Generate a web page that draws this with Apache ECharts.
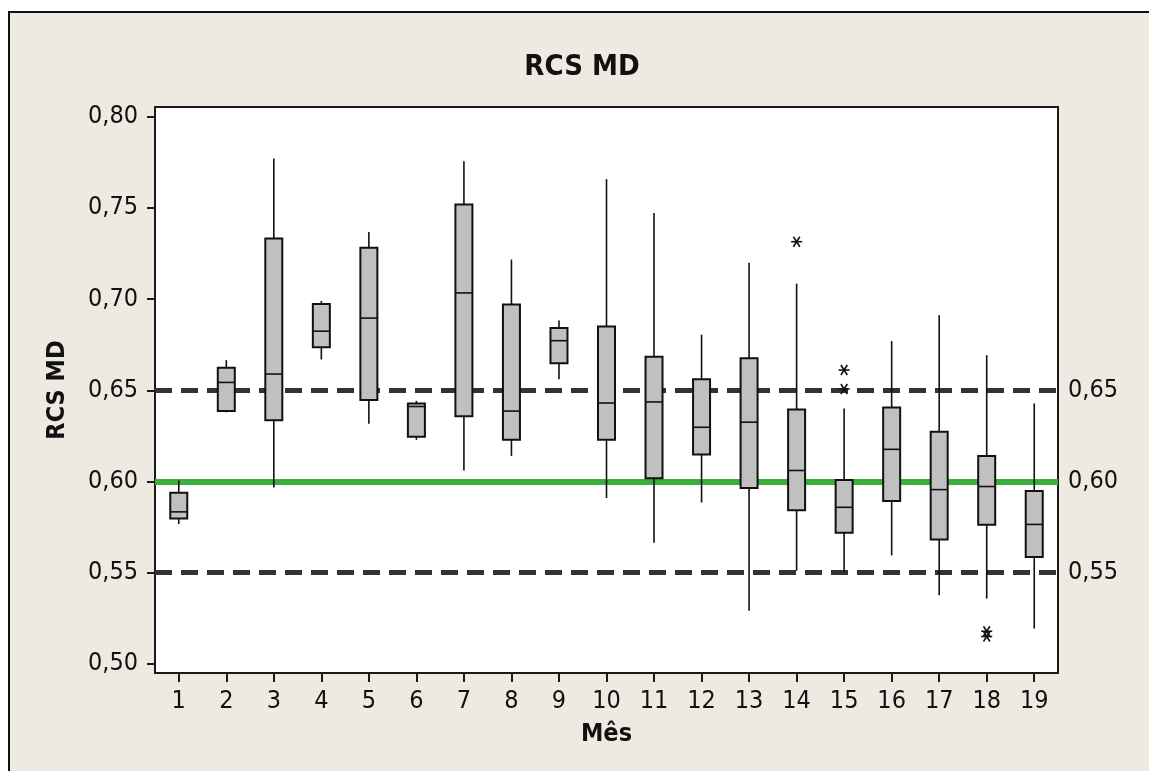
<!DOCTYPE html>
<html>
<head>
<meta charset="utf-8">
<script src="https://cdn.jsdelivr.net/npm/echarts@6/dist/echarts.min.js"></script>
<style>
html,body{margin:0;padding:0;background:#ffffff;}
#chart{width:1149px;height:771px;}
</style>
</head>
<body>
<div id="chart"></div>
<script>
// ---- Data ----
const months = ['1','2','3','4','5','6','7','8','9','10','11','12','13','14','15','16','17','18','19'];
const whiskerLow  = [0.5766,0.6379,0.5966,0.6669,0.6316,0.6228,0.6060,0.6140,0.6560,0.5909,0.5663,0.5884,0.5290,0.5510,0.5502,0.5594,0.5376,0.5357,0.5193];
const q1          = [0.5796,0.6386,0.6335,0.6736,0.6446,0.6245,0.6358,0.6228,0.6648,0.6228,0.6018,0.6148,0.5964,0.5842,0.5718,0.5892,0.5682,0.5762,0.5586];
const median      = [0.5833,0.6543,0.6589,0.6824,0.6896,0.6411,0.7034,0.6386,0.6772,0.6430,0.6436,0.6297,0.6325,0.6060,0.5858,0.6176,0.5955,0.5972,0.5764];
const q3          = [0.5938,0.6623,0.7332,0.6973,0.7282,0.6428,0.7519,0.6971,0.6841,0.6850,0.6684,0.6560,0.6675,0.6394,0.6008,0.6405,0.6272,0.6140,0.5947];
const whiskerHigh = [0.6006,0.6665,0.7771,0.6990,0.7368,0.6442,0.7756,0.7217,0.6883,0.7658,0.7473,0.6805,0.7200,0.7085,0.6400,0.6770,0.6911,0.6692,0.6428];
const outlierMonth = ['14','15','15','18','18'];
const outlierValue = [0.7315,0.6611,0.6507,0.5178,0.5149];
const leftTicks  = [0.50,0.55,0.60,0.65,0.70,0.75,0.80];
const rightTicks = [0.55,0.60,0.65];
const limitLines = [0.55,0.65];
const targetLine = [0.60];

// ---- Build ----
const boxData = months.map((m,i)=>[i, whiskerLow[i], q1[i], median[i], q3[i], whiskerHigh[i]]);
const outData = outlierMonth.map((m,i)=>[months.indexOf(m), outlierValue[i]]);
const fmt = v => Number(v).toFixed(2).replace('.', ',');
const FONT = "'DejaVu Sans Condensed','DejaVu Sans',sans-serif";

const chart = echarts.init(document.getElementById('chart'));
chart.setOption({
  backgroundColor: 'transparent',
  animation: false,
  graphic: [{
    type: 'rect', z: -100, silent: true,
    shape: {x: 9, y: 12, width: 1300, height: 900},
    style: {fill: '#EEEAE1', stroke: '#111', lineWidth: 2}
  }],
  title: {
    text: 'RCS MD', left: 577, top: 48, textAlign: 'center',
    textStyle: {fontFamily: FONT, fontSize: 29, fontWeight: 'bold', color: '#111'}
  },
  grid: {
    left: 155, right: 91, top: 107, bottom: 98,
    show: true, backgroundColor: '#ffffff', borderColor: '#1a1a1a', borderWidth: 2
  },
  xAxis: {
    type: 'category', data: months, boundaryGap: true,
    name: 'Mês', nameLocation: 'middle', nameGap: 49,
    nameTextStyle: {fontFamily: FONT, fontSize: 25, fontWeight: 'bold', color: '#111'},
    axisLine: {show: true, lineStyle: {color: '#1a1a1a', width: 2}},
    axisTick: {show: true, alignWithLabel: true, length: 9, lineStyle: {color: '#1a1a1a', width: 2}},
    axisLabel: {fontFamily: FONT, fontSize: 25, color: '#111', margin: 16},
    splitLine: {show: false}
  },
  yAxis: [{
    type: 'value', min: 0.4949, max: 0.8054,
    name: 'RCS MD', nameLocation: 'middle', nameGap: 85, nameRotate: 90,
    nameTextStyle: {fontFamily: FONT, fontSize: 25, fontWeight: 'bold', color: '#111'},
    axisLine: {show: true, lineStyle: {color: '#1a1a1a', width: 2}},
    axisTick: {show: true, customValues: leftTicks, length: 8, lineStyle: {color: '#1a1a1a', width: 2}},
    axisLabel: {customValues: leftTicks, formatter: fmt, fontFamily: FONT, fontSize: 25, color: '#111', margin: 17},
    splitLine: {show: false}
  }, {
    type: 'value', min: 0.4949, max: 0.8054, position: 'right',
    axisLine: {show: false}, axisTick: {show: false},
    axisLabel: {customValues: rightTicks, formatter: fmt, fontFamily: FONT, fontSize: 25, color: '#111', margin: 10},
    splitLine: {show: false}
  }],
  series: [{
    type: 'line', data: [], z: 1, silent: true,
    markLine: {
      symbol: 'none', silent: true, label: {show: false},
      data: limitLines.map(v => ({yAxis: v, lineStyle: {color: '#333333', width: 5, type: [17, 9]}}))
        .concat(targetLine.map(v => ({yAxis: v, lineStyle: {color: '#3BAF3B', width: 6, type: 'solid'}})))
    }
  }, {
    type: 'custom', z: 5, data: boxData,
    encode: {x: 0, y: [1,2,3,4,5]},
    renderItem: function (params, api) {
      const x = api.value(0);
      const pLow = api.coord([x, api.value(1)]);
      const pQ1 = api.coord([x, api.value(2)]);
      const pMed = api.coord([x, api.value(3)]);
      const pQ3 = api.coord([x, api.value(4)]);
      const pHigh = api.coord([x, api.value(5)]);
      const cx = pQ1[0];
      const hw = 8.5;
      const ls = {stroke: '#111', lineWidth: 1.6};
      return {
        type: 'group',
        children: [
          {type: 'line', shape: {x1: cx, y1: pHigh[1], x2: cx, y2: pQ3[1]}, style: ls},
          {type: 'line', shape: {x1: cx, y1: pQ1[1], x2: cx, y2: pLow[1]}, style: ls},
          {type: 'rect', shape: {x: cx - hw, y: pQ3[1], width: hw * 2, height: pQ1[1] - pQ3[1]},
            style: {fill: '#C0C0C0', stroke: '#111', lineWidth: 2}},
          {type: 'line', shape: {x1: cx - hw, y1: pMed[1], x2: cx + hw, y2: pMed[1]}, style: ls}
        ]
      };
    }
  }, {
    type: 'custom', z: 6, data: outData,
    encode: {x: 0, y: 1},
    renderItem: function (params, api) {
      const p = api.coord([api.value(0), api.value(1)]);
      const s = {stroke: '#111', lineWidth: 1.6};
      return {
        type: 'group', x: p[0], y: p[1],
        children: [
          {type: 'line', shape: {x1: -5.5, y1: 0, x2: 5.5, y2: 0}, style: s},
          {type: 'line', shape: {x1: -3.2, y1: -5, x2: 3.2, y2: 5}, style: s},
          {type: 'line', shape: {x1: -3.2, y1: 5, x2: 3.2, y2: -5}, style: s}
        ]
      };
    }
  }]
});
</script>
</body>
</html>
